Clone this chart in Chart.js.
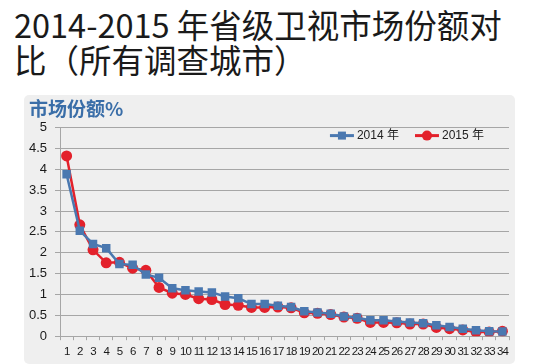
<!DOCTYPE html>
<html>
<head>
<meta charset="utf-8">
<script src="https://cdn.jsdelivr.net/npm/chart.js@4/dist/chart.umd.min.js"></script>
<style>
  html, body { margin: 0; padding: 0; background: #fff; }
  body { width: 539px; height: 364px; position: relative; overflow: hidden; }
  .headline {
    position: absolute; left: 14px; top: 6px; white-space: nowrap;
    font-family: "Noto Sans CJK SC", sans-serif;
    font-size: 32.5px; line-height: 35px; color: #1a1a1a;
  }
  .headline .p { display: inline-block; width: 1em; text-align: center; }
  .panel {
    position: absolute; left: 24px; top: 95px; width: 491px; height: 269px;
    background: #efefef; border-radius: 5px;
  }
</style>
</head>
<body>
<div class="headline">2014-2015 年省级卫视市场份额对<br>比<span class="p">（</span>所有调查城市<span class="p">）</span></div>
<div class="panel"><canvas id="share-chart" width="491" height="269"></canvas></div>

<script>
// market share by ranked channel, %
const ranks = ['1','2','3','4','5','6','7','8','9','10','11','12','13','14','15','16','17',
               '18','19','20','21','22','23','24','25','26','27','28','29','30','31','32','33','34'];
const share2014 = [3.88, 2.53, 2.21, 2.11, 1.73, 1.71, 1.48, 1.40, 1.15, 1.10, 1.07, 1.05, 0.95, 0.91, 0.77, 0.77, 0.73,
                   0.70, 0.60, 0.57, 0.54, 0.47, 0.44, 0.38, 0.38, 0.35, 0.33, 0.31, 0.26, 0.22, 0.18, 0.14, 0.12, 0.11];
const share2015 = [4.32, 2.67, 2.07, 1.76, 1.77, 1.63, 1.58, 1.17, 1.03, 1.00, 0.90, 0.88, 0.76, 0.74, 0.69, 0.69, 0.70,
                   0.68, 0.56, 0.55, 0.52, 0.46, 0.43, 0.33, 0.33, 0.32, 0.29, 0.29, 0.21, 0.18, 0.15, 0.10, 0.10, 0.12];
const seriesNames = ['2014 年', '2015 年'];
const yMin = 0, yMax = 5, yStep = 0.5;

const BLUE = '#4a78b0';
const RED  = '#e3212b';
const GRID = '#a6a6a6';

// legend inside the plot, top right: short line with the marker on it, then the label
const lineLegend = {
  id: 'lineLegend',
  afterDraw(chart, args, opts) {
    const { ctx, chartArea } = chart;
    ctx.save();
    ctx.letterSpacing = '0px';
    ctx.font = '12px "Liberation Sans", Arial, "Noto Sans CJK SC", sans-serif';
    ctx.textBaseline = 'middle';
    const items = chart.data.datasets.map(ds => ({ ds, w: ctx.measureText(ds.label).width }));
    const total = items.reduce((s, it) => s + opts.swatch + opts.gap + it.w, 0) + opts.spacing * (items.length - 1);
    let x = chartArea.right - opts.right - total;
    const y = chartArea.top + opts.top;
    items.forEach(({ ds, w }) => {
      ctx.strokeStyle = ds.borderColor; ctx.fillStyle = ds.borderColor; ctx.lineWidth = 3;
      ctx.beginPath(); ctx.moveTo(x, y); ctx.lineTo(x + opts.swatch, y); ctx.stroke();
      const cx = x + opts.swatch / 2;
      if (ds.pointStyle === 'rect') ctx.fillRect(cx - 4, y - 4, 8, 8);
      else { ctx.beginPath(); ctx.arc(cx, y, 5, 0, Math.PI * 2); ctx.fill(); }
      x += opts.swatch + opts.gap;
      ctx.fillStyle = '#222';
      ctx.fillText(ds.label, x, y + 0.5);
      x += w + opts.spacing;
    });
    ctx.restore();
  }
};

// squeeze the category labels a little (they are set in a narrow face in the original)
const narrowTicks = {
  id: 'narrowTicks',
  afterDatasetsDraw(chart) { chart.ctx.letterSpacing = '-1px'; },
  afterDraw(chart) { chart.ctx.letterSpacing = '0px'; }
};

new Chart(document.getElementById('share-chart'), {
  type: 'line',
  data: {
    labels: ranks,
    datasets: [
      {
        label: seriesNames[0], data: share2014,
        borderColor: BLUE, backgroundColor: BLUE, borderWidth: 2.5,
        pointStyle: 'rect', pointRadius: 6, pointHoverRadius: 6,
        pointBorderWidth: 0, tension: 0
      },
      {
        label: seriesNames[1], data: share2015,
        borderColor: RED, backgroundColor: RED, borderWidth: 2.5,
        pointStyle: 'circle', pointRadius: 5.5, pointHoverRadius: 5.5,
        pointBorderWidth: 0, tension: 0
      }
    ]
  },
  options: {
    responsive: false,
    animation: false,
    layout: { padding: { left: 5, right: 2, top: 0, bottom: 0 } },
    plugins: {
      title: {
        display: true, text: '市场份额%', align: 'start', color: '#3a6ea8',
        font: { family: '"Noto Sans CJK SC", sans-serif', size: 19, weight: 'bold', lineHeight: 1.2 },
        padding: { top: 2, bottom: 7.8 }
      },
      legend: { display: false },
      lineLegend: { swatch: 24, gap: 3, spacing: 16, right: 25, top: 8 },
      tooltip: { enabled: false }
    },
    scales: {
      x: {
        offset: true,
        grid: { display: true, offset: true, drawOnChartArea: false, drawTicks: true, tickLength: 4, color: GRID },
        border: { display: true, color: GRID, width: 1 },
        ticks: {
          autoSkip: false, maxRotation: 0, padding: 5, color: '#1a1a1a', z: 1,
          font: { family: '"Liberation Sans", Arial, sans-serif', size: 11.5 }
        }
      },
      y: {
        min: yMin, max: yMax,
        afterFit(scale) { scale.width = 31; },
        grid: {
          color: GRID, borderDash: [6, 5], lineWidth: 1,
          drawTicks: true, tickLength: 5, tickColor: GRID, tickBorderDash: []
        },
        border: { display: true, color: GRID, width: 1 },
        ticks: {
          stepSize: yStep, padding: 8, color: '#1a1a1a',
          font: { family: '"Liberation Sans", Arial, sans-serif', size: 13 },
          callback: v => String(+v.toFixed(1))
        }
      }
    }
  },
  plugins: [narrowTicks, lineLegend]
});
</script>
</body>
</html>
